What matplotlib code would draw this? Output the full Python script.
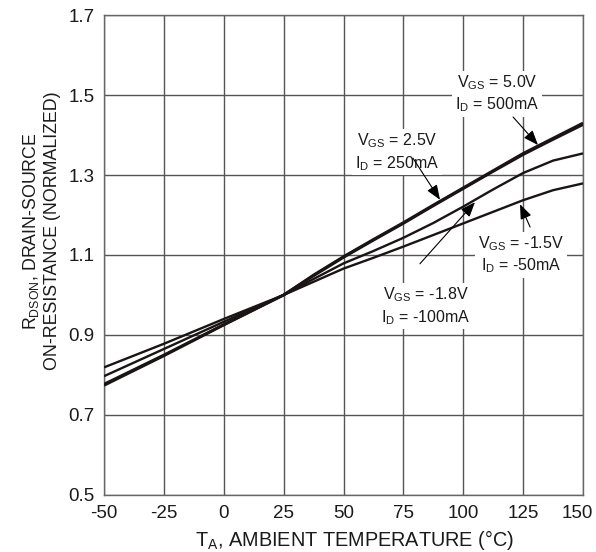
import matplotlib
matplotlib.use("Agg")
import matplotlib.pyplot as plt
import matplotlib.transforms as mtransforms

plt.rcParams['font.family'] = ['Liberation Sans', 'DejaVu Sans']
plt.rcParams['mathtext.fontset'] = 'custom'
plt.rcParams['mathtext.rm'] = 'Liberation Sans'
plt.rcParams['mathtext.it'] = 'Liberation Sans'
plt.rcParams['mathtext.default'] = 'regular'

temps = [-50, -25, 0, 25, 37.5, 50, 62.5, 75, 87.5, 100, 112.5, 125, 137.5, 150]
r_vgs_5v0 = [0.774, 0.848, 0.925, 1.0, 1.050, 1.096, 1.139, 1.181, 1.225, 1.268, 1.311, 1.354, 1.392, 1.430]
r_vgs_2v5 = [0.777, 0.850, 0.926, 1.0, 1.048, 1.094, 1.137, 1.179, 1.223, 1.266, 1.309, 1.351, 1.389, 1.426]
r_vgs_m1v8 = [0.797, 0.865, 0.933, 1.0, 1.040, 1.079, 1.110, 1.143, 1.180, 1.221, 1.264, 1.305, 1.336, 1.354]
r_vgs_m1v5 = [0.819, 0.878, 0.940, 1.0, 1.033, 1.066, 1.093, 1.121, 1.150, 1.179, 1.208, 1.237, 1.262, 1.279]

x_ticks = [-50, -25, 0, 25, 50, 75, 100, 125, 150]
y_ticks = [0.5, 0.7, 0.9, 1.1, 1.3, 1.5, 1.7]

labels = [
    (r'V$_{GS}$ = 5.0V' + '\n' + r'I$_D$ = 500mA', (114, 1.503), (120.8, 1.445), (131.2, 1.375)),
    (r'V$_{GS}$ = 2.5V' + '\n' + r'I$_D$ = 250mA', (72.3, 1.357), (79.0, 1.342), (90.3, 1.238)),
    (r'V$_{GS}$ = -1.5V' + '\n' + r'I$_D$ = -50mA', (124.1, 1.100), (127.9, 1.170), (123.7, 1.227)),
    (r'V$_{GS}$ = -1.8V' + '\n' + r'I$_D$ = -100mA', (84.4, 0.972), (81.9, 1.078), (104.9, 1.232)),
]

fig = plt.figure(figsize=(5.96, 5.52), dpi=100)
ax = fig.add_axes([0.1745, 0.1033, 0.8037, 0.8695])

line_color = '#1a1414'
ax.plot(temps, r_vgs_5v0, color=line_color, lw=2.0, solid_capstyle='butt', zorder=3)
ax.plot(temps, r_vgs_2v5, color=line_color, lw=2.0, solid_capstyle='butt', zorder=3)
ax.plot(temps, r_vgs_m1v8, color=line_color, lw=1.7, solid_capstyle='butt', zorder=3)
ax.plot(temps, r_vgs_m1v5, color=line_color, lw=1.7, solid_capstyle='butt', zorder=3)

ax.set_xlim(-50, 150)
ax.set_ylim(0.5, 1.7)
ax.set_xticks(x_ticks)
ax.set_yticks(y_ticks)
ax.set_xticklabels([str(t) for t in x_ticks])
ax.set_yticklabels([f'{v:.1f}' for v in y_ticks])
ax.tick_params(length=0, labelsize=13.5, colors='#1a1a1a')
ax.tick_params(axis='y', pad=7)
ax.tick_params(axis='x', pad=7)
last = ax.get_xticklabels()[-1]
last.set_transform(last.get_transform() + mtransforms.ScaledTranslation(-0.06, 0, fig.dpi_scale_trans))
ax.grid(True, color='#555555', lw=1.0)
ax.set_axisbelow(True)
for s in ax.spines.values():
    s.set_color('#666666')
    s.set_linewidth(1.0)

for txt, pos, start, head in labels:
    ax.text(pos[0], pos[1], txt, ha='center', va='center', fontsize=11.5,
            linespacing=1.25, color='#1a1a1a', zorder=4,
            bbox=dict(facecolor='white', edgecolor='none', pad=2))
    ax.annotate('', xy=head, xytext=start,
                arrowprops=dict(arrowstyle='-|>,head_length=0.9,head_width=0.35',
                                color='black', lw=0.8, shrinkA=0, shrinkB=0),
                zorder=5)

ax.set_xlabel(r'T$_A$, AMBIENT TEMPERATURE (°C)', fontsize=14.3, color='#1a1a1a')
ax.xaxis.set_label_coords(0.524, -0.068)
ax.set_ylabel(r'R$_{DSON}$, DRAIN-SOURCE' + '\n' + 'ON-RESISTANCE (NORMALIZED)',
              fontsize=12.8, color='#1a1a1a', linespacing=1.2)
ax.yaxis.set_label_coords(-0.09, 0.55)

fig.savefig('out.png', dpi=100)
